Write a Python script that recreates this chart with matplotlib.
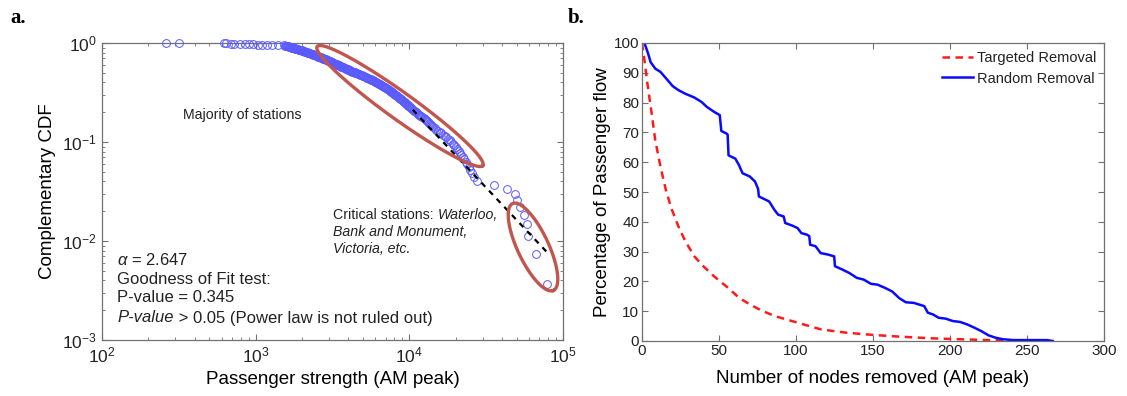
import numpy as np
import matplotlib
matplotlib.use('Agg')
import matplotlib.pyplot as plt

plt.rcParams['font.family'] = ['Liberation Sans', 'DejaVu Sans']
plt.rcParams['mathtext.fontset'] = 'custom'
plt.rcParams['mathtext.rm'] = 'Liberation Sans'
plt.rcParams['mathtext.it'] = 'Liberation Sans:italic'
plt.rcParams['mathtext.bf'] = 'Liberation Sans:bold'

# station passenger strength (AM peak), one value per station
strength = [
    261, 318,
    620, 640, 690, 720, 790, 850, 900, 960, 1040, 1100, 1190, 1280, 1390, 1520,
    1560, 1575, 1590, 1600, 1615, 1630, 1645, 1660, 1670, 1685, 1700, 1715, 1730,
    1745, 1760, 1775, 1790, 1805, 1820, 1840, 1860, 1880, 1900, 1920, 1940,
    1960, 1975, 1990, 2010, 2025, 2040, 2060, 2075, 2090, 2110, 2130, 2145, 2165,
    2180, 2200, 2220, 2240, 2255, 2275, 2295, 2315, 2335, 2355, 2375, 2395, 2415,
    2435, 2455, 2475, 2495, 2515, 2535, 2555, 2575, 2600, 2620,
    2645, 2665, 2690, 2710, 2735, 2760, 2780, 2805, 2830, 2850, 2875, 2900, 2925,
    2950, 2975, 3000, 3025, 3050, 3075, 3100, 3125, 3150, 3165, 3180,
    3210, 3240, 3270, 3300, 3330, 3360, 3390, 3420, 3455, 3485, 3520, 3550, 3585,
    3615, 3650, 3685, 3720, 3755, 3790, 3825, 3860, 3895, 3930, 3970, 4005, 4045,
    4080, 4120, 4160, 4200, 4250, 4300,
    4350, 4400, 4455, 4510, 4560, 4620, 4675, 4730, 4790, 4845, 4905, 4965, 5025,
    5085, 5150, 5210, 5275, 5340, 5400, 5470, 5535, 5600, 5670, 5730, 5790,
    5850, 5915, 5980, 6040, 6105, 6170, 6240, 6305, 6375, 6440, 6510, 6580, 6650,
    6725, 6795, 6870, 6945, 7020, 7095, 7170, 7250, 7330, 7405, 7485, 7565, 7650,
    7730, 7780, 7820,
    7900, 7990, 8080, 8170, 8260, 8350, 8440, 8530, 8630, 8720, 8820, 8920, 9010,
    9110, 9210, 9320, 9420, 9520, 9630, 9740, 9850, 9960, 10070, 10180, 10300,
    10420, 10540,
    10710, 10880, 11060, 11240, 11420, 11600, 11790, 11980, 12170, 12370, 12570,
    12770, 12980, 13190, 13400, 13610, 13830, 14040, 14250,
    14600, 14970, 15350, 15730, 16130, 16530, 16950, 17380, 17810, 18260, 18720, 19200,
    19600, 20000, 20400, 20900, 21400, 21800, 22300,
    22800, 23300, 23800, 24300, 24800,
    25600, 26500, 27500,
    35500, 43100, 48600, 50500, 52500, 55700, 58200, 59200, 66700, 78500,
]

# power-law fit
alpha = 2.647
xmin = 10540
pvalue = 0.345

# node removal (AM peak)
targ_n = [0, 1.6, 3.5, 6.3, 8.6, 12, 15.5, 19, 23.6, 28.2, 34, 39.8, 46.8, 56, 63, 70,
          76.9, 86, 95.4, 104.6, 116.2, 132.4, 151, 169.4, 188, 206.5, 225, 243.5]
targ_pct = [100, 94.2, 86.4, 76.3, 67.4, 58.5, 50.7, 44.6, 38.5, 33.4, 28.4, 25.1, 21.7,
            17.8, 14.5, 12.3, 10.4, 8.4, 7.0, 5.6, 3.9, 2.8, 2.0, 1.4, 0.9, 0.6, 0.3, 0.1]

rand_n = [1.6, 4, 5.6, 8.6, 12, 16.7, 20, 23.6, 28, 34, 38.7, 42, 46.8, 50.5, 51.5, 54.9,
          55.6, 56.2, 60.6, 63, 65.3, 70, 73.4, 75.4, 75.9, 80.3, 82.6, 86, 88.4, 92, 93,
          97.7, 101, 103.5, 107, 108.6, 109.2, 112.7, 116, 120.8, 124.8, 125.3, 130,
          134.7, 139.4, 144, 148.6, 153, 157.9, 162.5, 167, 171.3, 176.4, 183.3, 185.6,
          189, 192.6, 197.2, 201.8, 206.5, 211, 215.7, 220.4, 225, 229.6, 234.3, 241,
          248, 263, 266.7]
rand_pct = [100, 96.4, 93.6, 91.4, 90.3, 87.5, 85.5, 84.2, 83, 81.7, 80.2, 78.6, 76.9,
            75.8, 70.5, 69.6, 69.3, 62.3, 61.2, 59, 56.3, 55.2, 53.5, 51, 48.5, 47.4,
            46.8, 44, 42.4, 41.8, 39.6, 38.7, 37.9, 36.2, 35.7, 35.2, 32.3, 31.8, 29.5,
            29, 28.4, 25.1, 24, 22.8, 21.2, 20.6, 19.2, 18.9, 17.8, 16.6, 14.4, 13, 12.8,
            11.7, 9.5, 8.9, 7.8, 7.5, 6.7, 6.4, 5.6, 4.5, 3.3, 1.9, 1.1, 0.6, 0.3, 0.3,
            0.3, 0]

W, H = 1127, 396
fig = plt.figure(figsize=(W / 100, H / 100), dpi=100)
AX1 = (102, 43, 563, 340)   # left, top, right, bottom in pixels
AX2 = (642, 43, 1104, 341)


def add_ax(box):
    l, t, r, b = box
    return fig.add_axes([l / W, (H - b) / H, (r - l) / W, (b - t) / H])


ax1 = add_ax(AX1)
ax2 = add_ax(AX2)

spine_c = '#707070'
for ax in (ax1, ax2):
    for s in ax.spines.values():
        s.set_color(spine_c)
        s.set_linewidth(0.9)
    ax.tick_params(which='both', direction='in', top=True, right=True, colors=spine_c,
                   labelcolor='#222222')
    ax.tick_params(which='major', length=4)
    ax.tick_params(which='minor', length=2.5)

# ---------- a. CCDF ----------
s = np.sort(np.array(strength, dtype=float))
N = len(s)
ccdf = (N - np.arange(N)) / N

ax1.set_xscale('log')
ax1.set_yscale('log')
ax1.plot(s, ccdf, 'o', mfc='none', mec='#5a5aff', ms=5.6, mew=0.7, zorder=3,
         clip_on=False)

xf = np.logspace(np.log10(xmin), np.log10(s.max()), 50)
yf = (np.sum(s >= xmin) / N) * (xf / xmin) ** (-(alpha - 1))
ax1.plot(xf, yf, color='k', ls=(0, (2.5, 2.5)), lw=1.6, zorder=4)

ax1.set_xlim(1e2, 1e5)
ax1.set_ylim(1e-3, 1)
ax1.tick_params(which='major', labelsize=12.5, pad=4)
ax1.set_xlabel('Passenger strength (AM peak)', fontsize=13.5, labelpad=4)
ax1.set_ylabel('Complementary CDF', fontsize=13.5, labelpad=4)


def ellipse(ax, box, cx, cy, major, minor, ang):
    # shape drawn in pixel space then mapped to axes fraction
    l, t, r, b = box
    tt = np.linspace(0, 2 * np.pi, 300)
    a = np.deg2rad(ang)
    ex = major / 2 * np.cos(tt)
    ey = minor / 2 * np.sin(tt)
    x = cx + ex * np.cos(a) - ey * np.sin(a)
    y = cy + ex * np.sin(a) + ey * np.cos(a)
    ax.plot((x - l) / (r - l), (b - y) / (b - t), transform=ax.transAxes,
            color='#c0564e', lw=2.4, clip_on=False, zorder=5)


# pixel positions, y downward
ellipse(ax1, AX1, 400, 106, 204, 27, 35.7)
ellipse(ax1, AX1, 533, 247, 96, 31, 64.8)


def fx(px):
    return (px - AX1[0]) / (AX1[2] - AX1[0])


def fy(py):
    return (AX1[3] - py) / (AX1[3] - AX1[1])


tk = dict(transform=ax1.transAxes, va='center', color='#222222')
fa = 10.2
ax1.text(fx(183), fy(115), 'Majority of stations', fontsize=fa, **tk)
t1 = ax1.text(fx(333), fy(215), 'Critical stations: ', fontsize=fa, **tk)
ax1.annotate('Waterloo,', xy=(1, 0.5), xycoords=t1, va='center', fontsize=fa,
             style='italic', color='#222222')
ax1.text(fx(333), fy(232), 'Bank and Monument,', fontsize=fa, style='italic', **tk)
ax1.text(fx(333), fy(249), 'Victoria, etc.', fontsize=fa, style='italic', **tk)

fs = 12
ax1.text(fx(117), fy(260), r'$\alpha$ = %.3f' % alpha, fontsize=fs, **tk)
ax1.text(fx(117), fy(279), 'Goodness of Fit test:', fontsize=fs, **tk)
ax1.text(fx(117), fy(298), 'P-value = %.3f' % pvalue, fontsize=fs, **tk)
t2 = ax1.text(fx(117), fy(318), 'P-value', fontsize=fs, style='italic', **tk)
ax1.annotate(' > 0.05 (Power law is not ruled out)', xy=(1, 0.5), xycoords=t2,
             va='center', fontsize=fs, color='#222222')

# ---------- b. node removal ----------
ax2.plot(targ_n, targ_pct, color='#ff1a1a', ls=(0, (3, 2.2)), lw=1.8,
         label='Targeted Removal')
ax2.plot(rand_n, rand_pct, color='#0a0aff', lw=1.8, label='Random Removal')
ax2.set_xlim(0, 300)
ax2.set_ylim(0, 100)
ax2.set_xticks(np.arange(0, 301, 50))
ax2.set_yticks(np.arange(0, 101, 10))
ax2.tick_params(which='major', labelsize=11, pad=2)
ax2.set_xlabel('Number of nodes removed (AM peak)', fontsize=13.5, labelpad=9)
ax2.set_ylabel('Percentage of Passenger flow', fontsize=13.5, labelpad=2)
leg = ax2.legend(loc='upper right', frameon=False, fontsize=10.5, handlelength=2.1,
                 handletextpad=0.25, labelspacing=0.45, borderaxespad=0.15)
for t in leg.get_texts():
    t.set_color('#222222')

fig.text(10 / W, 1 - 18 / H, 'a.', fontsize=15, fontweight='bold',
         family='Liberation Serif', va='center')
fig.text(568 / W, 1 - 18 / H, 'b.', fontsize=15, fontweight='bold',
         family='Liberation Serif', va='center')

fig.savefig('out.png', dpi=100)
